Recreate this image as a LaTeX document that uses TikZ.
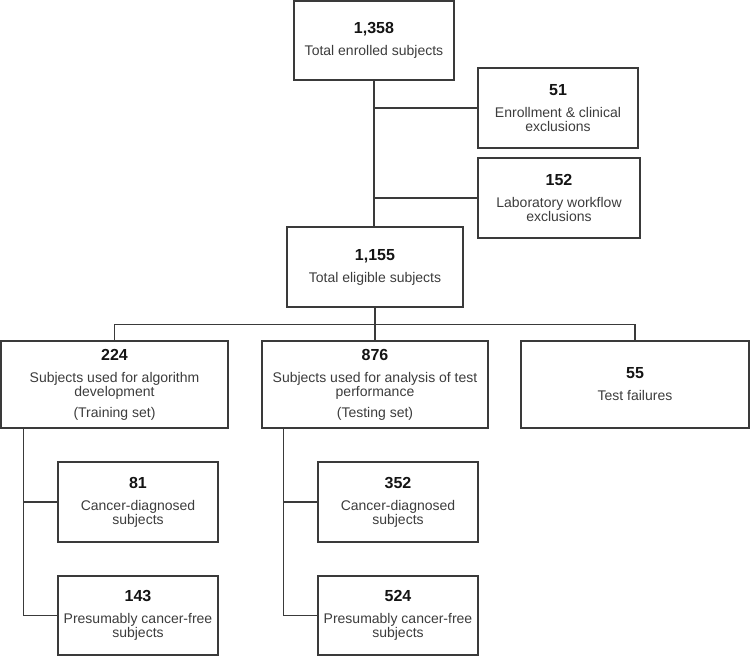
\documentclass[tikz,border=0pt]{standalone}
\usepackage{fontspec}
\setmainfont{Liberation Sans}
\definecolor{linec}{HTML}{3A3A3A}
\definecolor{txtc}{HTML}{3C3C3C}
\definecolor{numc}{HTML}{141414}
\newcommand{\num}[1]{{\fontsize{16}{16}\selectfont\bfseries\color{numc}#1}}
\begin{document}
\begin{tikzpicture}[x=1pt,y=1pt,
  box/.style={draw=linec, line width=1.3pt, rectangle, inner sep=0pt, align=center,
    text=txtc, font=\fontsize{14}{14}\selectfont},
  conn/.style={draw=linec, line width=1.3pt}]
\useasboundingbox (0,0) rectangle (750,-656);
% top block
\node[box, minimum width=160, minimum height=79] (top) at (374,-40.5)
  {\num{1,358}\\[8pt]Total enrolled subjects};
\node[box, minimum width=160, minimum height=80] (e51) at (558,-108)
  {\num{51}\\[8pt]Enrollment \& clinical\\exclusions};
\node[box, minimum width=162, minimum height=80] (e152) at (559,-198)
  {\num{152}\\[8pt]Laboratory workflow\\exclusions};
\node[box, minimum width=176, minimum height=80] (elig) at (375,-267)
  {\num{1,155}\\[8pt]Total eligible subjects};
% middle row
\node[box, minimum width=227, minimum height=87] (b224) at (114.5,-384.5)
  {\num{224}\\[8pt]Subjects used for algorithm\\development\\[7pt](Training set)};
\node[box, minimum width=226, minimum height=87] (b876) at (375,-384.5)
  {\num{876}\\[8pt]Subjects used for analysis of test\\performance\\[7pt](Testing set)};
\node[box, minimum width=228, minimum height=87] (b55) at (635,-384.5)
  {\num{55}\\[8pt]Test failures};
% bottom
\node[box, minimum width=160, minimum height=80] (b81) at (138,-502)
  {\num{81}\\[8pt]Cancer-diagnosed\\subjects};
\node[box, minimum width=160, minimum height=79] (b143) at (138,-615.5)
  {\num{143}\\[8pt]Presumably cancer-free\\subjects};
\node[box, minimum width=160, minimum height=80] (b352) at (398,-502)
  {\num{352}\\[8pt]Cancer-diagnosed\\subjects};
\node[box, minimum width=160, minimum height=79] (b524) at (398,-615.5)
  {\num{524}\\[8pt]Presumably cancer-free\\subjects};
% connectors
\draw[conn] (top.south) -- (top.south |- elig.north);
\draw[conn] (top.south |- e51.west) -- (e51.west);
\draw[conn] (top.south |- e152.west) -- (e152.west);
\coordinate (bus) at ([yshift=-17]elig.south);
\draw[conn] (elig.south) -- (bus);
\draw[conn] (b224.north) |- (bus) -| (b55.north);
\draw[conn] (bus) -- (b876.north);
\coordinate (lt) at ([xshift=23]b224.south west);
\draw[conn] (lt) |- (b143.west);
\draw[conn] (lt |- b81.west) -- (b81.west);
\coordinate (mt) at ([xshift=22]b876.south west);
\draw[conn] (mt) |- (b524.west);
\draw[conn] (mt |- b352.west) -- (b352.west);
\end{tikzpicture}
\end{document}
